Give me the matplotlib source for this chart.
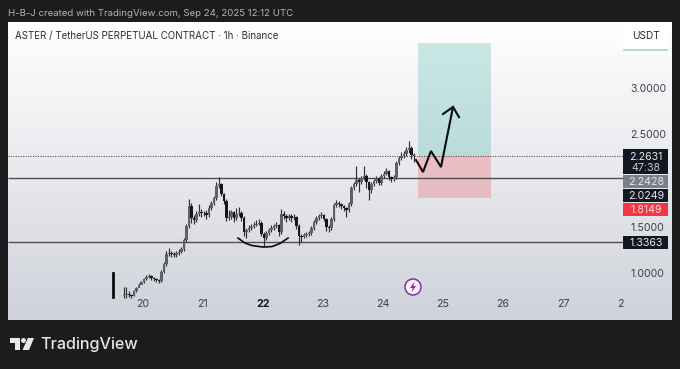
import numpy as np
import matplotlib.pyplot as plt
from matplotlib.colors import LinearSegmentedColormap
from matplotlib.patches import Rectangle, Circle, Polygon

plt.rcParams['font.family'] = ['Inter', 'DejaVu Sans']

# Candles, 1h, starting on day 19.683
opens = [.750, .762, .773, .762, .751, .805, .838, .870, .903, .935, .957, .968, .946, .935, .924, .914, 1.011, 1.097,
         1.205, 1.216, 1.205, 1.195, 1.216, 1.227, 1.259, 1.357, 1.508, 1.724, 1.595, 1.573, 1.638, 1.659, 1.649,
         1.649, 1.627, 1.703, 1.757, 1.811, 1.940, 1.962, 1.854, 1.778, 1.595, 1.605, 1.659, 1.595, 1.638, 1.649,
         1.595, 1.443, 1.465, 1.486, 1.497, 1.519, 1.530, 1.541, 1.422, 1.378, 1.432, 1.465, 1.486, 1.508, 1.519,
         1.443, 1.638, 1.616, 1.595, 1.616, 1.595, 1.605, 1.508, 1.400, 1.389, 1.411, 1.422, 1.432, 1.486, 1.551,
         1.595, 1.616, 1.627, 1.584, 1.497, 1.486, 1.584, 1.735, 1.757, 1.746, 1.724, 1.703, 1.681, 1.746, 1.919,
         1.962, 2.005, 1.984, 2.027, 2.049, 1.984, 1.897, 1.962, 1.995, 2.027, 1.973, 2.049, 2.070, 2.103, 2.038,
         2.016, 2.038, 2.189, 2.243, 2.265, 2.286, 2.330, 2.351, 2.276]
closes = [.762, .773, .762, .751, .805, .838, .870, .903, .935, .957, .968, .946, .935, .924, .914, 1.011, 1.097, 1.205,
          1.216, 1.205, 1.195, 1.216, 1.227, 1.259, 1.357, 1.508, 1.724, 1.595, 1.573, 1.638, 1.659, 1.649, 1.649,
          1.627, 1.703, 1.757, 1.811, 1.940, 1.962, 1.854, 1.778, 1.595, 1.605, 1.659, 1.595, 1.638, 1.649, 1.595,
          1.443, 1.465, 1.486, 1.497, 1.519, 1.530, 1.541, 1.422, 1.378, 1.432, 1.465, 1.486, 1.508, 1.519, 1.443,
          1.638, 1.616, 1.595, 1.616, 1.595, 1.605, 1.508, 1.400, 1.389, 1.411, 1.422, 1.432, 1.486, 1.551, 1.595,
          1.616, 1.627, 1.584, 1.497, 1.486, 1.584, 1.735, 1.757, 1.746, 1.724, 1.703, 1.681, 1.746, 1.919, 1.962,
          2.005, 1.984, 2.027, 2.049, 1.984, 1.897, 1.962, 1.995, 2.027, 1.973, 2.049, 2.070, 2.103, 2.038, 2.016,
          2.038, 2.189, 2.243, 2.265, 2.286, 2.330, 2.351, 2.276, 2.263]
highs = [.849, .849, .805, .773, .816, .849, .892, .914, .946, .979, .990, .979, .957, .946, .935, 1.032, 1.119, 1.238,
         1.270, 1.238, 1.227, 1.238, 1.259, 1.281, 1.378, 1.530, 1.800, 1.757, 1.627, 1.670, 1.746, 1.692, 1.670,
         1.681, 1.735, 1.778, 1.832, 1.984, 2.038, 1.973, 1.865, 1.800, 1.681, 1.681, 1.670, 1.703, 1.714, 1.670,
         1.616, 1.486, 1.519, 1.530, 1.551, 1.573, 1.584, 1.562, 1.443, 1.454, 1.486, 1.519, 1.530, 1.551, 1.530,
         1.692, 1.670, 1.638, 1.638, 1.638, 1.638, 1.616, 1.530, 1.422, 1.432, 1.443, 1.454, 1.508, 1.573, 1.616,
         1.638, 1.659, 1.638, 1.595, 1.519, 1.605, 1.757, 1.789, 1.778, 1.757, 1.735, 1.714, 1.768, 1.941, 1.984,
         2.157, 2.027, 2.049, 2.157, 2.070, 1.995, 1.984, 2.016, 2.049, 2.038, 2.070, 2.103, 2.135, 2.114, 2.049,
         2.060, 2.211, 2.265, 2.308, 2.319, 2.362, 2.427, 2.373, 2.297]
lows = [.730, .730, .740, .730, .751, .794, .849, .881, .892, .925, .946, .925, .914, .903, .892, .903, 1.000, 1.076,
        1.184, 1.173, 1.173, 1.173, 1.195, 1.216, 1.238, 1.335, 1.486, 1.541, 1.530, 1.551, 1.616, 1.605, 1.616,
        1.584, 1.605, 1.681, 1.735, 1.789, 1.919, 1.832, 1.746, 1.562, 1.573, 1.584, 1.551, 1.573, 1.616, 1.562,
        1.400, 1.378, 1.443, 1.465, 1.486, 1.508, 1.519, 1.400, 1.281, 1.357, 1.411, 1.443, 1.465, 1.486, 1.400,
        1.422, 1.584, 1.551, 1.573, 1.551, 1.573, 1.475, 1.300, 1.335, 1.378, 1.389, 1.400, 1.411, 1.465, 1.530,
        1.573, 1.595, 1.562, 1.454, 1.443, 1.465, 1.562, 1.714, 1.714, 1.692, 1.670, 1.605, 1.659, 1.724, 1.897,
        1.941, 1.876, 1.962, 2.005, 1.919, 1.789, 1.865, 1.941, 1.973, 1.951, 1.951, 2.027, 2.060, 2.005, 1.984,
        1.995, 2.016, 2.168, 2.222, 2.243, 2.265, 2.297, 2.232, 2.200]

# Axis labels
day_ticks = [20, 21, 22, 23, 24, 25, 26, 27, 27.95]
day_labels = ['20', '21', '22', '23', '24', '25', '26', '27', '2']
price_ticks = [1.0, 1.5, 2.5, 3.0]

# Levels and drawings
last_price = 2.2631
support_levels = [2.0249, 1.3363]
target_price = 3.486
stop_price = 1.8149
position_days = [24.583, 25.8]
path_days = [24.55, 24.667, 24.8, 24.967, 25.167]
path_prices = [2.222, 2.092, 2.319, 2.146, 2.795]
head_days = [25.0, 25.167, 25.267]
head_prices = [2.719, 2.795, 2.686]
cup_days = [21.583, 21.7, 21.817, 22.0, 22.15, 22.283, 22.417]
cup_prices = [1.378, 1.324, 1.297, 1.281, 1.286, 1.319, 1.378]

fig = plt.figure(figsize=(6.8, 3.69), dpi=100, facecolor='#1c1c1c')

# Chart panel
ax = fig.add_axes([8 / 680, 49 / 369, 664 / 680, 298 / 369])
xlim = (17.75, 28.817)
ylim = (0.492, 3.714)
cmap = LinearSegmentedColormap.from_list('panel', [(0, '#ffffff'), (0.2, '#f6f6f8'), (0.55, '#e6e7ec'), (1, '#cfd2da')])
ax.imshow(np.linspace(0, 1, 200).reshape(-1, 1), cmap=cmap, vmin=0, vmax=1, aspect='auto', zorder=0,
          extent=[xlim[0], xlim[1], ylim[0], ylim[1]], origin='upper')
ax.set_xlim(xlim)
ax.set_ylim(ylim)
for s in ax.spines.values():
    s.set_visible(False)

# Long position box
ax.fill_between(position_days, last_price, target_price, color='#26a69a', alpha=0.24, lw=0, zorder=1)
ax.fill_between(position_days, stop_price, last_price, color='#f23645', alpha=0.24, lw=0, zorder=1)

# Horizontal levels
ax.hlines(support_levels, xlim[0], 28.0, color='#4a4a4e', lw=0.95, zorder=2)
ax.hlines(last_price, xlim[0], 28.0, color='#50535e', lw=0.8, linestyles=(0, (1, 1.2)), zorder=2)

# Candles
o = np.array(opens)
c = np.array(closes)
times = 19.683 + np.arange(len(c)) / 24
up = c >= o
ax.vlines(times, lows, highs, color='#2e3036', lw=0.85, zorder=3)
ax.bar(times[up], (c - o)[up], bottom=o[up], width=2.2 / 60, color='#5f6169', lw=0, zorder=4)
ax.bar(times[~up], (o - c)[~up], bottom=c[~up], width=2.2 / 60, color='#16171b', lw=0, zorder=4)

# Hand drawn marks
ax.plot(path_days, path_prices, color='#0b0b0b', lw=1.5, zorder=5, solid_joinstyle='miter')
ax.plot(head_days, head_prices, color='#0b0b0b', lw=1.5, zorder=5, solid_joinstyle='miter')
ax.plot(cup_days, cup_prices, color='#0b0b0b', lw=1.2, zorder=5)
ax.plot([19.5, 19.5], [0.74, 1.0], color='#0b0b0b', lw=2.0, zorder=5)

ax.set_xticks(day_ticks)
ax.set_xticklabels(day_labels)
ax.tick_params(axis='x', length=0, pad=-15, labelsize=7.6, labelcolor='#3c3f48')
ax.get_xticklabels()[2].set_fontweight('bold')
ax.get_xticklabels()[2].set_color('#131722')
ax.yaxis.tick_right()
ax.set_yticks(price_ticks)
ax.set_yticklabels([f'{p:.4f}' for p in price_ticks])
ax.tick_params(axis='y', length=0, pad=-30, labelsize=7.6, labelcolor='#3c3f48')
for lab in ax.get_yticklabels():
    lab.set_ha('left')

# Overlay in pixels for the TradingView chrome
ov = fig.add_axes([0, 0, 1, 1], facecolor='none')
ov.set_xlim(0, 680)
ov.set_ylim(369, 0)
ov.axis('off')

ov.text(8, 14, 'H-B-J created with TradingView.com, Sep 24, 2025 12:12 UTC', color='#b4b4b4',
        fontsize=6.95, va='center')
ov.text(15, 36.5, 'ASTER / TetherUS PERPETUAL CONTRACT · 1h · Binance', color='#2a2e39',
        fontsize=7.0, va='center')

# USDT button
ov.add_patch(Rectangle((623, 24), 45, 26, fc='#ffffff', ec='none'))
ov.plot([624, 667], [50, 50], color='#a9cfcb', lw=1.2)
ov.text(646, 36, 'USDT', color='#2a2e39', fontsize=7.3, ha='center', va='center')

# Price labels on the scale
boxes = [(149, 174, '#131722'), (175, 188, '#7c7e88'), (189, 202, '#131722'), (203, 216, '#f23645'),
         (236, 249, '#131722')]
for top, bottom, col in boxes:
    ov.add_patch(Rectangle((623, top), 45, bottom - top, fc=col, ec='none'))
labels = [(157, '2.2631', '#e8e8ea'), (168, '47:38', '#c8c9cd'), (182, '2.2428', '#e8e8ea'), (196, '2.0249', '#e8e8ea'),
          (210, '1.8149', '#ffd9dc'), (242.5, '1.3363', '#e8e8ea')]
for y, txt, col in labels:
    ov.text(646, y, txt, color=col, fontsize=7.6, ha='center', va='center')

# Lightning badge
ov.add_patch(Circle((413, 287), 8, fc='#f7f4fa', ec='#8e2aa8', lw=1.1))
ov.add_patch(Polygon([(414.5, 281.5), (410, 288), (412.7, 288), (411.5, 292.5), (416, 286), (413.3, 286)],
                     closed=True, fc='#8e2aa8', ec='none'))

# TradingView logo
ov.add_patch(Polygon([(10, 338), (20, 338), (20, 350), (15, 350), (15, 343), (10, 343)], closed=True, fc='#e8e8e8', ec='none'))
ov.add_patch(Circle((23.5, 340.5), 2.5, fc='#e8e8e8', ec='none'))
ov.add_patch(Polygon([(28, 338), (34, 338), (29, 350), (22.5, 350)], closed=True, fc='#e8e8e8', ec='none'))
ov.text(40, 344.5, 'TradingView', color='#e8e8e8', fontsize=11.6, fontweight='medium', va='center')

fig.savefig('out.png', dpi=100, facecolor=fig.get_facecolor())
